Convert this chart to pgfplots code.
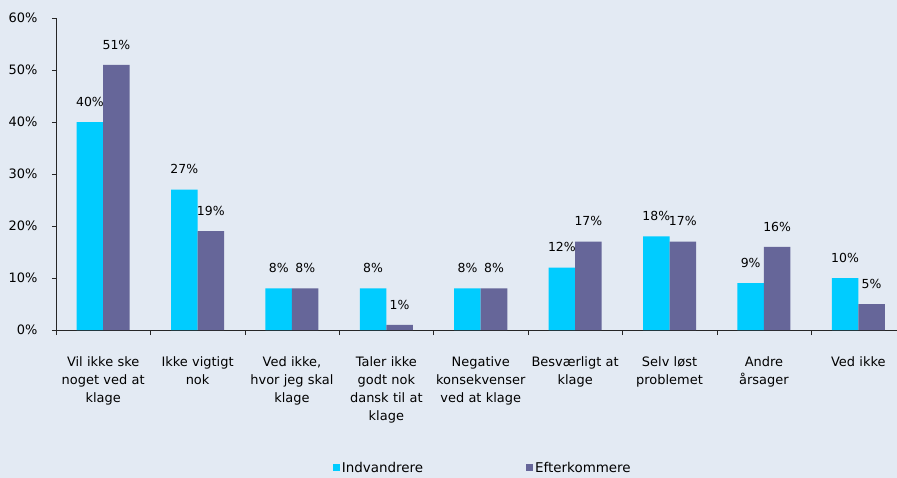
\documentclass[border=0pt]{standalone}
\usepackage{fontspec}
\setmainfont{DejaVu Sans}
\usepackage{pgfplots}
\pgfplotsset{compat=1.18}
\definecolor{bg}{RGB}{227,234,243}
\definecolor{cy}{RGB}{0,204,255}
\definecolor{pu}{RGB}{102,102,153}
\begin{document}
\begin{tikzpicture}
\fill[bg] (-56bp,-148bp) rectangle (841bp,330bp);
\begin{axis}[
 at={(0,0)}, anchor=south west,
 scale only axis, width=841bp, height=312bp,
 ybar=0pt, bar width=26.5bp,
 xmin=-0.5, xmax=8.41, ymin=0, ymax=60,
 axis x line=bottom, axis y line=left,
 axis line style={black!85, -},
 xtick={0,...,8},
 xticklabels={{Vil ikke ske\\noget ved at\\klage},{Ikke vigtigt\\nok},{Ved ikke,\\hvor jeg skal\\klage},{Taler ikke\\godt nok\\dansk til at\\klage},{Negative\\konsekvenser\\ved at klage},{Besværligt at\\klage},{Selv løst\\problemet},{Andre\\årsager},{Ved ikke}},
 minor xtick={-0.5,0.5,...,7.5},
 major x tick style={draw=none},
 minor x tick style={black!85},
 y tick style={black!85},
 tick align=outside,
 minor tick length=5bp, major tick length=4bp,
 ytick={0,10,...,60},
 yticklabel={\pgfmathprintnumber{\tick}\%},
 /pgf/number format/assume math mode=true,
 tick label style={font=\fontsize{13}{18}\selectfont},
 yticklabel style={xshift=-11bp},
 xticklabel style={text width=94bp, align=center, yshift=-19bp},
 nodes near coords={\pgfmathprintnumber{\pgfplotspointmeta}\%},
 nodes near coords style={font=\fontsize{12.5}{15}\selectfont, yshift=12bp},
 legend columns=2,
 legend style={at={(0.5075,-0.442)}, anchor=center, draw=none, fill=none,
   font=\fontsize{13.5}{16}\selectfont,
   /tikz/every even column/.append style={column sep=101bp}},
 legend image code/.code={\fill[#1] (0bp,-3.5bp) rectangle (7bp,3.5bp);},
]
\addplot[fill=cy, draw=none] coordinates {(0,40) (1,27) (2,8) (3,8) (4,8) (5,12) (6,18) (7,9) (8,10)};
\addplot[fill=pu, draw=none] coordinates {(0,51) (1,19) (2,8) (3,1) (4,8) (5,17) (6,17) (7,16) (8,5)};
\legend{Indvandrere, Efterkommere}
\end{axis}
\pgfresetboundingbox
\path[use as bounding box] (-56bp,-148bp) rectangle (841bp,330bp);
\end{tikzpicture}
\end{document}
